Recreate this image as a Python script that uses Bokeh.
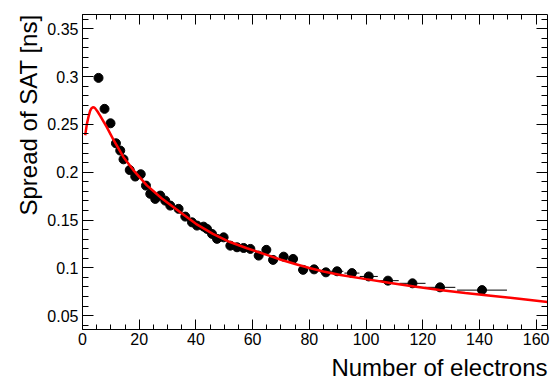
import numpy as np
from bokeh.plotting import figure
from bokeh.models import (Range1d, LinearAxis, SingleIntervalTicker,
                          CustomJSTickFormatter, Title, ColumnDataSource,
                          CustomLabelingPolicy)
from bokeh.embed import file_html
from bokeh.resources import INLINE

# ---- data ----
n_electrons = [5.65, 7.77, 9.88, 11.79, 13.31, 14.47, 16.66, 18.60, 20.54, 22.38,
               23.90, 25.66, 27.43, 29.19, 30.96, 33.89, 36.25, 38.62, 40.38, 42.71,
               43.91, 45.68, 47.44, 49.77, 52.14, 54.50, 56.83, 59.20, 62.13, 64.84,
               67.21, 70.95, 74.27, 77.80, 81.68, 85.85, 89.80, 95.02, 100.95, 107.73,
               116.38, 126.09, 140.91]
sat_spread = [0.2987, 0.2663, 0.2512, 0.2303, 0.2227, 0.2135, 0.2023, 0.1955, 0.1979, 0.1860,
              0.1774, 0.1721, 0.1756, 0.1703, 0.1651, 0.1617, 0.1536, 0.1476, 0.1442, 0.1431,
              0.1407, 0.1355, 0.1303, 0.1319, 0.1232, 0.1215, 0.1208, 0.1198, 0.1128, 0.1188,
              0.1083, 0.1117, 0.1093, 0.0979, 0.0984, 0.0953, 0.0964, 0.0945, 0.0910, 0.0866,
              0.0838, 0.0796, 0.0767]
bin_halfwidth = [1.0, 1.0, 1.0, 0.9, 0.7, 0.8, 1.0, 1.0, 1.0, 0.9,
                 0.9, 0.9, 0.9, 0.9, 1.0, 1.3, 1.2, 1.2, 1.0, 1.0,
                 0.8, 0.9, 0.9, 1.2, 1.2, 1.2, 1.2, 1.2, 1.4, 1.4,
                 1.4, 1.6, 1.7, 1.8, 1.9, 2.0, 2.2, 2.65, 3.2, 3.8,
                 4.6, 5.4, 8.8]

fit_x = [0.95, 1.55, 2.2, 2.72, 3.2, 3.67, 4.1, 4.48, 5.3, 6.25,
         8.61, 10.94, 14.47, 18.0, 22.7, 28.0, 34.5, 40.0, 46.0, 52.0,
         58.0, 65.0, 70.0, 75.0, 80.0, 85.0, 91.0, 100.0, 108.6, 117.0,
         126.0, 135.0, 144.0, 154.0, 164.0]
fit_y = [0.2387, 0.2506, 0.2590, 0.2645, 0.2670, 0.2680, 0.2678, 0.2668, 0.2635, 0.2590,
         0.2470, 0.2339, 0.2157, 0.2020, 0.1862, 0.1725, 0.1581, 0.1460, 0.1355, 0.1270,
         0.1205, 0.1135, 0.1085, 0.1040, 0.0998, 0.0962, 0.0926, 0.0882, 0.0842, 0.0805,
         0.0768, 0.0738, 0.0709, 0.0676, 0.0642]

x_label = "Number of electrons"
y_label = "Spread of SAT [ns]"

FONT = "Liberation Sans"

p = figure(width=550, height=388, output_backend="svg", toolbar_location=None,
           x_range=Range1d(0, 164), y_range=Range1d(0.0355, 0.365),
           min_border_left=82, min_border_right=3, min_border_top=14,
           min_border_bottom=59)
p.xgrid.visible = False
p.ygrid.visible = False
p.outline_line_color = None
p.background_fill_color = "white"
p.border_fill_color = "white"

x_ticker = SingleIntervalTicker(interval=20, num_minor_ticks=4)
y_ticker = SingleIntervalTicker(interval=0.05, num_minor_ticks=5)
y_fmt = CustomJSTickFormatter(code="return String(Math.round(tick*100)/100);")

xa = p.xaxis[0]
xa.ticker = x_ticker
ya = p.yaxis[0]
ya.ticker = y_ticker
ya.formatter = y_fmt

for ax, mj, mn, so in [(xa, 10, 5, 3), (ya, 11, 6, 4)]:
    ax.major_tick_in = mj
    ax.major_tick_out = 0
    ax.minor_tick_in = mn
    ax.minor_tick_out = 0
    ax.axis_line_color = "black"
    ax.major_tick_line_color = "black"
    ax.minor_tick_line_color = "black"
    ax.major_label_text_font = FONT
    ax.major_label_text_font_size = "16px"
    ax.major_label_text_color = "black"
    ax.major_label_standoff = so

top = LinearAxis(ticker=SingleIntervalTicker(interval=20, num_minor_ticks=4),
                 major_label_text_font_size="0px",
                 major_label_policy=CustomLabelingPolicy(code="return []"),
                 major_label_standoff=0,
                 major_tick_in=10, major_tick_out=0, minor_tick_in=5, minor_tick_out=0,
                 axis_line_color="black")
right = LinearAxis(ticker=SingleIntervalTicker(interval=0.05, num_minor_ticks=5),
                   major_label_text_font_size="0px",
                   major_label_policy=CustomLabelingPolicy(code="return []"),
                   major_label_standoff=0,
                   major_tick_in=11, major_tick_out=0, minor_tick_in=6, minor_tick_out=0,
                   axis_line_color="black")
p.add_layout(top, "above")
p.add_layout(right, "right")

# axis titles, ROOT style (aligned to the far end of each axis)
xt = Title(text=x_label, align="right", text_font=FONT, text_font_size="24px",
           text_font_style="normal", text_color="black", standoff=9)
p.add_layout(xt, "below")
yt = Title(text=y_label, align="right", text_font=FONT, text_font_size="24px",
           text_font_style="normal", text_color="black", standoff=6)
p.add_layout(yt, "left")

xs = np.array(n_electrons)
ys = np.array(sat_spread)
hw = np.array(bin_halfwidth)
src = ColumnDataSource(dict(x=xs, y=ys, x0=xs - hw, x1=xs + hw))
p.segment(x0="x0", y0="y", x1="x1", y1="y", source=src, line_color="black", line_width=1)
p.scatter("x", "y", source=src, size=9, fill_color="black", line_color="black")
p.line(fit_x, fit_y, line_color="#ff0000", line_width=2.5)

open("out.html", "w").write(file_html(p, INLINE))
